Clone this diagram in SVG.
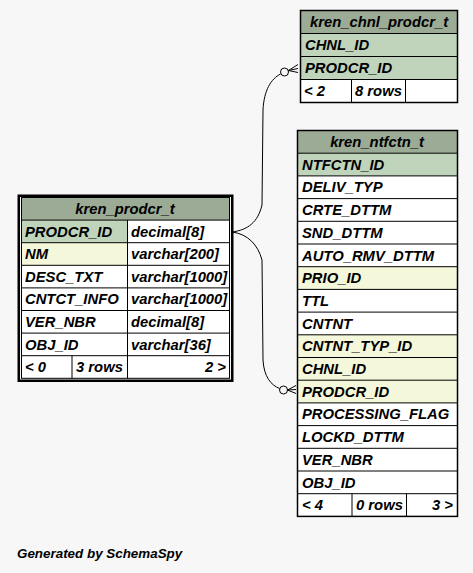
<svg xmlns="http://www.w3.org/2000/svg" width="473" height="573" viewBox="0 0 473 573">
<defs>
<style>
text{font-family:"Liberation Sans",Arial,Helvetica,sans-serif;font-weight:bold;font-style:italic;font-size:14.8px;fill:#000}
.t{text-anchor:middle}
.r{text-anchor:end}
.ft{font-size:13.4px}
.hd{fill:#9cab96}
.pk{fill:#bfd4bb}
.fk{fill:#f4f7da}
.wh{fill:#ffffff}
.ln{stroke:#000;stroke-width:1;fill:none}
.ob{stroke:#000;stroke-width:1.5;fill:none}
.edge{stroke:#000;stroke-width:1;fill:none}
</style>
</defs>
<rect x="0" y="0" width="473" height="573" fill="#f7f7f7"/>

<g id="connectors">
<path class="edge" d="M232,232 C248,230 258,222 262,205 L263,110 C264,90 271,79 280.5,74"/>
<circle class="edge" cx="284.5" cy="72" r="4" fill="#ffffff"/>
<path class="edge" d="M288.5,70.5 L298,64.5 M288.5,70.5 L298,68.5 M288.5,70.5 L298,72.5"/>
<path class="edge" d="M232,232 C248,234 258,245 262,260 L263,360 C264,377 271,385 279.5,388.5"/>
<circle class="edge" cx="283.5" cy="390" r="4" fill="#ffffff"/>
<path class="edge" d="M287.5,390 L296,385.5 M287.5,390 L296,389.5 M287.5,390 L296,393.5"/>
</g>

<g id="kren_chnl_prodcr_t">
<rect class="hd" x="300.5" y="10.5" width="157" height="23"/>
<rect class="pk" x="300.5" y="33.5" width="157" height="23"/>
<rect class="pk" x="300.5" y="56.5" width="157" height="23"/>
<rect class="wh" x="300.5" y="79.5" width="157" height="23"/>
<path class="ln" d="M300.5,33.5H457.5M300.5,56.5H457.5M300.5,79.5H457.5M351.5,79.5V102.5M405.5,79.5V102.5"/>
<rect class="ob" x="300.5" y="10.5" width="157" height="92"/>
<text class="t" x="379" y="27">kren_chnl_prodcr_t</text>
<text x="305" y="50">CHNL_ID</text>
<text x="305" y="73">PRODCR_ID</text>
<text x="304" y="96">&lt; 2</text>
<text x="355" y="96">8 rows</text>
</g>

<g id="kren_ntfctn_t">
<rect class="hd" x="297.5" y="130.5" width="160" height="22.7"/>
<rect class="pk" x="297.5" y="153.2" width="160" height="22.7"/>
<rect class="wh" x="297.5" y="175.9" width="160" height="90.8"/>
<rect class="fk" x="297.5" y="266.7" width="160" height="22.7"/>
<rect class="wh" x="297.5" y="289.4" width="160" height="45.4"/>
<rect class="fk" x="297.5" y="334.8" width="160" height="68.1"/>
<rect class="wh" x="297.5" y="402.9" width="160" height="113.5"/>
<path class="ln" d="M297.5,153.2H457.5M297.5,175.9H457.5M297.5,198.6H457.5M297.5,221.3H457.5M297.5,244H457.5M297.5,266.7H457.5M297.5,289.4H457.5M297.5,312.1H457.5M297.5,334.8H457.5M297.5,357.5H457.5M297.5,380.2H457.5M297.5,402.9H457.5M297.5,425.6H457.5M297.5,448.3H457.5M297.5,471H457.5M297.5,493.7H457.5M352,493.7V516.4M406.5,493.7V516.4"/>
<rect class="ob" x="297.5" y="130.5" width="160" height="385.9"/>
<text class="t" x="377" y="147">kren_ntfctn_t</text>
<text x="302" y="169.7">NTFCTN_ID</text>
<text x="302" y="192.4">DELIV_TYP</text>
<text x="302" y="215.1">CRTE_DTTM</text>
<text x="302" y="237.8">SND_DTTM</text>
<text x="302" y="260.5">AUTO_RMV_DTTM</text>
<text x="302" y="283.2">PRIO_ID</text>
<text x="302" y="305.9">TTL</text>
<text x="302" y="328.6">CNTNT</text>
<text x="302" y="351.3">CNTNT_TYP_ID</text>
<text x="302" y="374">CHNL_ID</text>
<text x="302" y="396.7">PRODCR_ID</text>
<text x="302" y="419.4">PROCESSING_FLAG</text>
<text x="302" y="442.1">LOCKD_DTTM</text>
<text x="302" y="464.8">VER_NBR</text>
<text x="302" y="487.5">OBJ_ID</text>
<text x="302" y="510.2">&lt; 4</text>
<text x="356" y="510.2">0 rows</text>
<text class="r" x="453" y="510.2">3 &gt;</text>
</g>

<g id="kren_prodcr_t">
<rect class="hd" x="21.5" y="197.5" width="208" height="22.6"/>
<rect class="pk" x="21.5" y="220.1" width="106" height="22.6"/>
<rect class="wh" x="127.5" y="220.1" width="102" height="22.6"/>
<rect class="fk" x="21.5" y="242.7" width="106" height="22.6"/>
<rect class="wh" x="127.5" y="242.7" width="102" height="22.6"/>
<rect class="wh" x="21.5" y="265.3" width="208" height="113"/>
<path class="ln" d="M21.5,220.1H229.5M21.5,242.7H229.5M21.5,265.3H229.5M21.5,287.9H229.5M21.5,310.5H229.5M21.5,333.1H229.5M21.5,355.7H229.5M127.5,220.1V378.3M72,355.7V378.3"/>
<rect class="ln" x="21.5" y="197.5" width="208" height="180.8"/>
<rect x="18.75" y="195.75" width="213.5" height="185" fill="none" stroke="#000" stroke-width="2.5"/>
<text class="t" x="125" y="214">kren_prodcr_t</text>
<text x="25" y="236.6">PRODCR_ID</text>
<text x="131" y="236.6">decimal[8]</text>
<text x="25" y="259.2">NM</text>
<text x="131" y="259.2">varchar[200]</text>
<text x="25" y="281.8">DESC_TXT</text>
<text x="131" y="281.8">varchar[1000]</text>
<text x="25" y="304.4">CNTCT_INFO</text>
<text x="131" y="304.4">varchar[1000]</text>
<text x="25" y="327">VER_NBR</text>
<text x="131" y="327">decimal[8]</text>
<text x="25" y="349.6">OBJ_ID</text>
<text x="131" y="349.6">varchar[36]</text>
<text x="25" y="372.2">&lt; 0</text>
<text x="76" y="372.2">3 rows</text>
<text class="r" x="226" y="372.2">2 &gt;</text>
</g>

<text class="ft" x="17" y="558">Generated by SchemaSpy</text>
</svg>
